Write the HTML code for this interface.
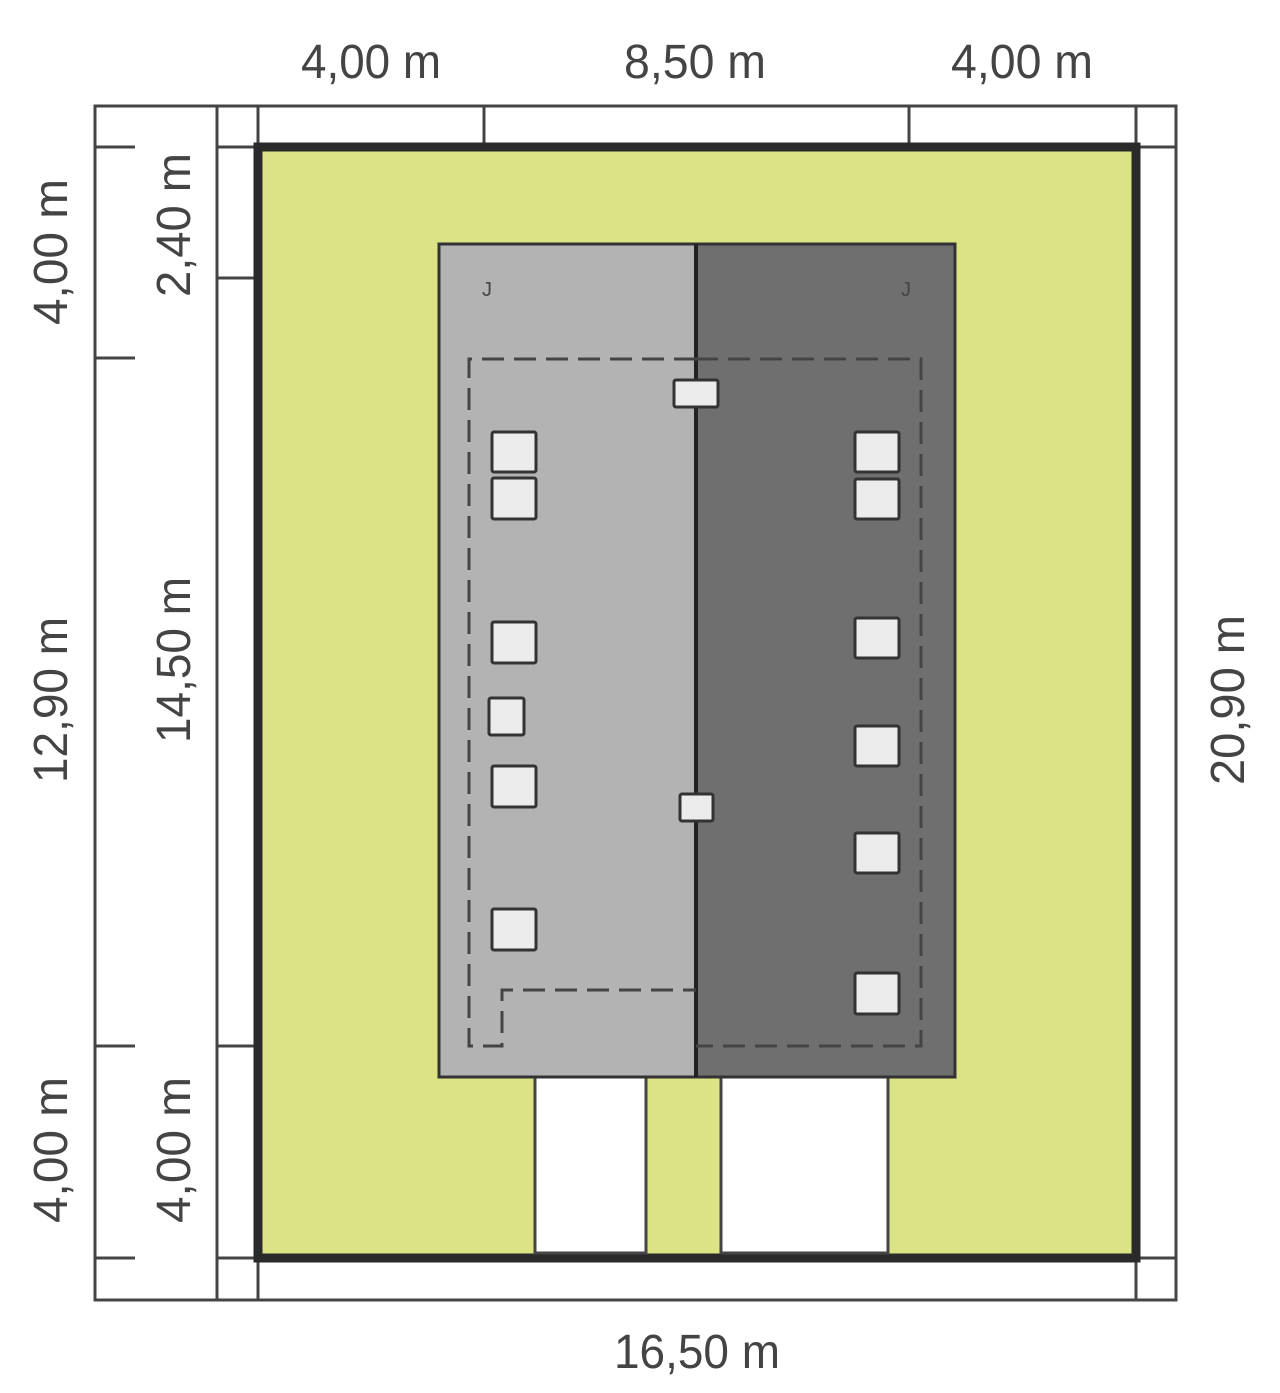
<!DOCTYPE html>
<html><head><meta charset="utf-8"><style>
html,body{margin:0;padding:0;background:#fff;}
svg{display:block}
text{font-family:"Liberation Sans Narrow","Liberation Sans",sans-serif;fill:#444;font-size:48px;}
</style></head><body>
<svg width="1280" height="1393" viewBox="0 0 1280 1393" xmlns="http://www.w3.org/2000/svg">
<g stroke="#444" stroke-width="3" fill="none">
<rect x="95" y="106" width="1081" height="1194"/>
<line x1="217" y1="106" x2="217" y2="1300"/>
<line x1="258" y1="106" x2="258" y2="1300"/>
<line x1="1136" y1="106" x2="1136" y2="1300"/>
<line x1="1136" y1="147" x2="1176" y2="147"/>
<line x1="1136" y1="1258" x2="1176" y2="1258"/>
<line x1="484" y1="106" x2="484" y2="145"/>
<line x1="909" y1="106" x2="909" y2="145"/>
<line x1="95" y1="147" x2="135" y2="147"/>
<line x1="95" y1="358" x2="135" y2="358"/>
<line x1="95" y1="1046" x2="135" y2="1046"/>
<line x1="95" y1="1258" x2="135" y2="1258"/>
<line x1="217" y1="147" x2="258" y2="147"/>
<line x1="217" y1="278" x2="258" y2="278"/>
<line x1="217" y1="1046" x2="258" y2="1046"/>
<line x1="217" y1="1258" x2="258" y2="1258"/>
</g>
<rect x="258" y="147" width="878" height="1111" fill="#dce384" stroke="#2a2a2a" stroke-width="9"/>
<rect x="535" y="1077" width="111" height="176" fill="#fff" stroke="#444" stroke-width="3"/>
<rect x="721" y="1077" width="167" height="176" fill="#fff" stroke="#444" stroke-width="3"/>
<rect x="439" y="244" width="257" height="833" fill="#b3b3b3"/>
<rect x="696" y="244" width="259" height="833" fill="#6f6f6f"/>
<rect x="439" y="244" width="516" height="833" fill="none" stroke="#333" stroke-width="3"/>
<line x1="696" y1="244" x2="696" y2="1077" stroke="#222" stroke-width="4"/>
<path d="M696 359 H921 V1046 H696 M696 359 H469 V1046 H502 V990 H696" fill="none" stroke="#444" stroke-width="3" stroke-dasharray="22 10"/>
<text x="487" y="296" style="font-size:20px" text-anchor="middle">J</text>
<text x="906" y="296" style="font-size:20px" text-anchor="middle">J</text>
<g fill="#ececec" stroke="#333" stroke-width="3">
<rect x="492" y="432" width="44" height="40" rx="2"/>
<rect x="492" y="478" width="44" height="41" rx="2"/>
<rect x="492" y="622" width="44" height="41" rx="2"/>
<rect x="489" y="698" width="35" height="37" rx="2"/>
<rect x="492" y="766" width="44" height="41" rx="2"/>
<rect x="492" y="909" width="44" height="41" rx="2"/>
<rect x="855" y="432" width="44" height="40" rx="2"/>
<rect x="855" y="479" width="44" height="40" rx="2"/>
<rect x="855" y="618" width="44" height="40" rx="2"/>
<rect x="855" y="726" width="44" height="40" rx="2"/>
<rect x="855" y="833" width="44" height="40" rx="2"/>
<rect x="855" y="973" width="44" height="41" rx="2"/>
<rect x="674" y="380" width="44" height="27" rx="2"/>
<rect x="680" y="794" width="33" height="27" rx="2"/>
</g>
<g text-anchor="middle">
<text x="371" y="78" textLength="140" lengthAdjust="spacingAndGlyphs">4,00 m</text>
<text x="695" y="78" textLength="142" lengthAdjust="spacingAndGlyphs">8,50 m</text>
<text x="1022" y="78" textLength="142" lengthAdjust="spacingAndGlyphs">4,00 m</text>
<text x="697" y="1368" textLength="166" lengthAdjust="spacingAndGlyphs">16,50 m</text>
<text transform="translate(67,252) rotate(-90)" textLength="146" lengthAdjust="spacingAndGlyphs">4,00 m</text>
<text transform="translate(67,700) rotate(-90)" textLength="166" lengthAdjust="spacingAndGlyphs">12,90 m</text>
<text transform="translate(67,1150) rotate(-90)" textLength="146" lengthAdjust="spacingAndGlyphs">4,00 m</text>
<text transform="translate(190,225) rotate(-90)" textLength="144" lengthAdjust="spacingAndGlyphs">2,40 m</text>
<text transform="translate(190,660) rotate(-90)" textLength="166" lengthAdjust="spacingAndGlyphs">14,50 m</text>
<text transform="translate(190,1150) rotate(-90)" textLength="146" lengthAdjust="spacingAndGlyphs">4,00 m</text>
<text transform="translate(1244,700) rotate(-90)" textLength="170" lengthAdjust="spacingAndGlyphs">20,90 m</text>
</g>
</svg>
</body></html>
